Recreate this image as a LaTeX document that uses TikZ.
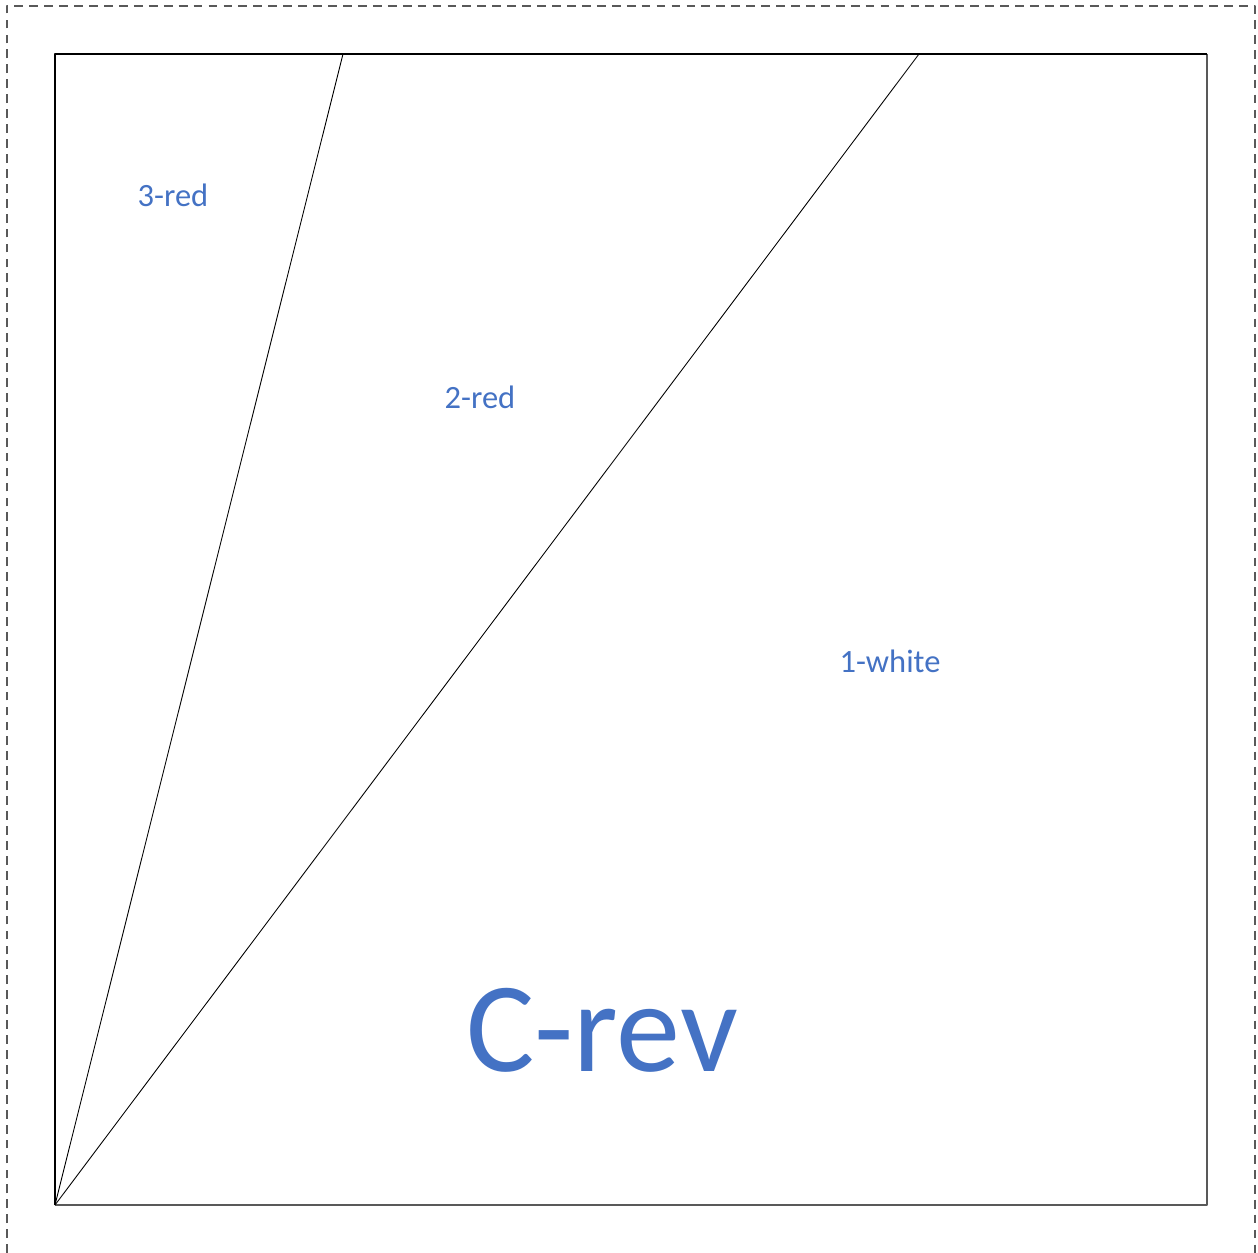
\documentclass[tikz,border=0pt]{standalone}
\usepackage{fontspec}
\setmainfont{Carlito}
\definecolor{lblblue}{HTML}{4472C4}
\definecolor{edgegray}{HTML}{595959}
\tikzset{
  lbl/.style={text=lblblue, font=\fontsize{18.5}{21}\selectfont, inner sep=0pt},
  biglbl/.style={text=lblblue, font=\fontsize{73}{82}\selectfont, inner sep=0pt}
}
\begin{document}
\begin{tikzpicture}[x=0.02cm, y=-0.02cm, line join=round]
				\useasboundingbox (0,0) rectangle (1258,1253);
				% outer dashed frame
				\draw[edgegray, dashed, dash pattern=on 5pt off 3.5pt, line width=0.8pt] (7,1253)--(7,6)--(1255,6)--(1255,1253);
				% square
				\coordinate (bl) at (55,1205);
				\coordinate (tl) at (55,54);
				\coordinate (tr) at (1207,54);
				\coordinate (br) at (1207,1205);
				\coordinate (p3) at (343,54);
				\coordinate (p2) at (919,54);
				\draw[edgegray, line width=0.7pt] (tr)--(br)--(bl);
				\draw[black, line width=0.7pt] (bl)--(tl)--(tr);
				\draw[black, line width=0.5pt] (bl)--(p3);
				\draw[black, line width=0.5pt] (bl)--(p2);
				\node[lbl] (red3) at (173,195) {3-red};
				\node[lbl] (red2) at (480,397) {2-red};
				\node[lbl] (white1) at (890,661) {1-white};
				\node[biglbl] (crev) at (602,1030) {C-rev};
\end{tikzpicture}
\end{document}
